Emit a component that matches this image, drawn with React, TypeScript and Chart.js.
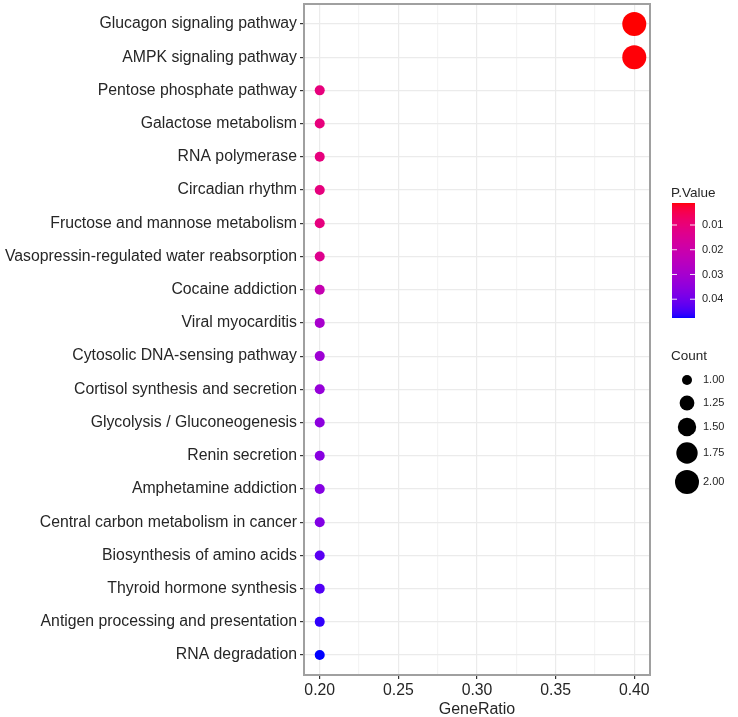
import React, { useEffect, useRef } from "react";
import { Chart, registerables } from "chart.js";

Chart.register(...registerables);

const pathways = [
  "Glucagon signaling pathway",
  "AMPK signaling pathway",
  "Pentose phosphate pathway",
  "Galactose metabolism",
  "RNA polymerase",
  "Circadian rhythm",
  "Fructose and mannose metabolism",
  "Vasopressin-regulated water reabsorption",
  "Cocaine addiction",
  "Viral myocarditis",
  "Cytosolic DNA-sensing pathway",
  "Cortisol synthesis and secretion",
  "Glycolysis / Gluconeogenesis",
  "Renin secretion",
  "Amphetamine addiction",
  "Central carbon metabolism in cancer",
  "Biosynthesis of amino acids",
  "Thyroid hormone synthesis",
  "Antigen processing and presentation",
  "RNA degradation",
];

const geneRatio = [0.4, 0.4, 0.2, 0.2, 0.2, 0.2, 0.2, 0.2, 0.2, 0.2, 0.2, 0.2, 0.2, 0.2, 0.2, 0.2, 0.2, 0.2, 0.2, 0.2];
const counts = [2, 2, 1, 1, 1, 1, 1, 1, 1, 1, 1, 1, 1, 1, 1, 1, 1, 1, 1, 1];
const pValues = [
  0.0011, 0.0012, 0.0104, 0.0105, 0.0106, 0.0107, 0.0108, 0.0135, 0.0215, 0.0295,
  0.0318, 0.0335, 0.0352, 0.0362, 0.0367, 0.0372, 0.0428, 0.0438, 0.0462, 0.0476,
];

const xMajorTicks = [0.2, 0.25, 0.3, 0.35, 0.4];
const xMinorTicks = [0.225, 0.275, 0.325, 0.375];
const pLegendTicks = [0.01, 0.02, 0.03, 0.04];
const countLegend = [1, 1.25, 1.5, 1.75, 2];

const FONT = "'Liberation Sans', Arial, Helvetica, sans-serif";
const TEXT = "#262626";

const pMin = Math.min(...pValues);
const pMax = Math.max(...pValues);
const cMin = Math.min(...counts);
const cMax = Math.max(...counts);
const R_MIN = 5;
const R_MAX = 12;

function fromLin(v: number): number {
  const c = Math.max(0, Math.min(1, v));
  const s = c <= 0.0031308 ? c * 12.92 : 1.055 * Math.pow(c, 1 / 2.4) - 0.055;
  return Math.round(s * 255);
}

function pColor(p: number): string {
  const t = Math.max(0, Math.min(1, (p - pMin) / (pMax - pMin)));
  return `rgb(${fromLin(1 - t)},0,${fromLin(t)})`;
}

function radius(c: number): number {
  const f = (c - cMin) / (cMax - cMin);
  return Math.sqrt(R_MIN * R_MIN + f * (R_MAX * R_MAX - R_MIN * R_MIN));
}

const isMajor = (v: number) => xMajorTicks.some((m) => Math.abs(m - v) < 1e-9);

const panelAndLegend = {
  id: "panelAndLegend",
  afterDraw(chart: any) {
    const ctx = chart.ctx as CanvasRenderingContext2D;
    const { left, top, right, bottom } = chart.chartArea;
    ctx.save();
    // panel border
    ctx.strokeStyle = "#a0a0a0";
    ctx.lineWidth = 2;
    ctx.strokeRect(left, top, right - left, bottom - top);

    // P.Value colourbar
    const barX = 672;
    const barW = 23;
    const barTop = 203;
    const barBot = 318;
    ctx.fillStyle = TEXT;
    ctx.font = `13.5px ${FONT}`;
    ctx.textAlign = "left";
    ctx.textBaseline = "alphabetic";
    ctx.fillText("P.Value", 671, 197);
    for (let y = barTop; y < barBot; y++) {
      const p = pMin + ((y + 0.5 - barTop) / (barBot - barTop)) * (pMax - pMin);
      ctx.fillStyle = pColor(p);
      ctx.fillRect(barX, y, barW, 1);
    }
    ctx.font = `11px ${FONT}`;
    ctx.textBaseline = "middle";
    pLegendTicks.forEach((p) => {
      const y = barTop + ((p - pMin) / (pMax - pMin)) * (barBot - barTop);
      ctx.strokeStyle = "rgba(255,255,255,0.9)";
      ctx.lineWidth = 1;
      ctx.beginPath();
      ctx.moveTo(barX, y);
      ctx.lineTo(barX + 5, y);
      ctx.moveTo(barX + barW - 5, y);
      ctx.lineTo(barX + barW, y);
      ctx.stroke();
      ctx.fillStyle = TEXT;
      ctx.fillText(p.toFixed(2), 702, y);
    });

    // Count legend
    ctx.font = `13.5px ${FONT}`;
    ctx.textBaseline = "alphabetic";
    ctx.fillStyle = TEXT;
    ctx.fillText("Count", 671, 360);
    const keyY = [380, 403, 427, 453, 482];
    ctx.font = `11px ${FONT}`;
    ctx.textBaseline = "middle";
    countLegend.forEach((c, i) => {
      ctx.fillStyle = "#000";
      ctx.beginPath();
      ctx.arc(687, keyY[i], radius(c), 0, Math.PI * 2);
      ctx.fill();
      ctx.fillStyle = TEXT;
      ctx.fillText(c.toFixed(2), 703, keyY[i]);
    });
    ctx.restore();
  },
};

export default function App() {
  const ref = useRef<HTMLCanvasElement | null>(null);

  useEffect(() => {
    if (!ref.current) return;
    const chart = new Chart(ref.current, {
      type: "scatter",
      data: {
        datasets: [
          {
            data: pathways.map((_, i) => ({ x: geneRatio[i], y: i })),
            pointRadius: counts.map(radius),
            pointHoverRadius: counts.map(radius),
            pointBackgroundColor: pValues.map(pColor),
            pointBorderWidth: 0,
            pointBorderColor: "transparent",
          } as any,
        ],
      },
      options: {
        animation: false,
        responsive: false,
        maintainAspectRatio: false,
        layout: { autoPadding: false, padding: { top: 4, right: 88, left: 0, bottom: 0 } },
        plugins: { legend: { display: false }, tooltip: { enabled: false } },
        scales: {
          x: {
            type: "linear",
            min: 0.19,
            max: 0.41,
            afterBuildTicks: (s: any) => {
              s.ticks = [...xMajorTicks, ...xMinorTicks]
                .sort((a, b) => a - b)
                .map((v) => ({ value: v }));
            },
            afterFit: (s: any) => {
              s.height = 42;
              s.paddingLeft = 0;
              s.paddingRight = 0;
            },
            ticks: {
              autoSkip: false,
              maxRotation: 0,
              padding: 2,
              color: TEXT,
              font: { family: FONT, size: 15.8 },
              callback: (v: any) => (isMajor(Number(v)) ? Number(v).toFixed(2) : ""),
            },
            grid: {
              color: (c: any) => (isMajor(c.tick?.value) ? "#ebebeb" : "#f4f4f4"),
              lineWidth: 1.2,
              tickColor: (c: any) => (isMajor(c.tick?.value) ? "#333333" : "rgba(0,0,0,0)"),
              tickLength: 4,
            },
            border: { display: false },
            title: {
              display: true,
              text: "GeneRatio",
              color: TEXT,
              font: { family: FONT, size: 16 },
              padding: { top: 2, bottom: -2 },
            },
          },
          y: {
            type: "linear",
            min: -0.6,
            max: pathways.length - 1 + 0.6,
            reverse: true,
            afterBuildTicks: (s: any) => {
              s.ticks = pathways.map((_, i) => ({ value: i }));
            },
            afterFit: (s: any) => {
              s.width = 304;
              s.paddingTop = 0;
              s.paddingBottom = 0;
            },
            ticks: {
              autoSkip: false,
              padding: 3,
              color: TEXT,
              font: { family: FONT, size: 15.8 },
              callback: (v: any) => pathways[Math.round(Number(v))] ?? "",
            },
            grid: {
              color: "#ebebeb",
              lineWidth: 1.2,
              tickColor: "#333333",
              tickLength: 4,
            },
            border: { display: false },
          },
        },
      },
      plugins: [panelAndLegend],
    });
    return () => chart.destroy();
  }, []);

  return (
    <div style={{ position: "fixed", left: 0, top: 0, width: 738, height: 717, background: "#fff" }}>
      <canvas ref={ref} width={738} height={717} style={{ display: "block", width: 738, height: 717 }} />
    </div>
  );
}
